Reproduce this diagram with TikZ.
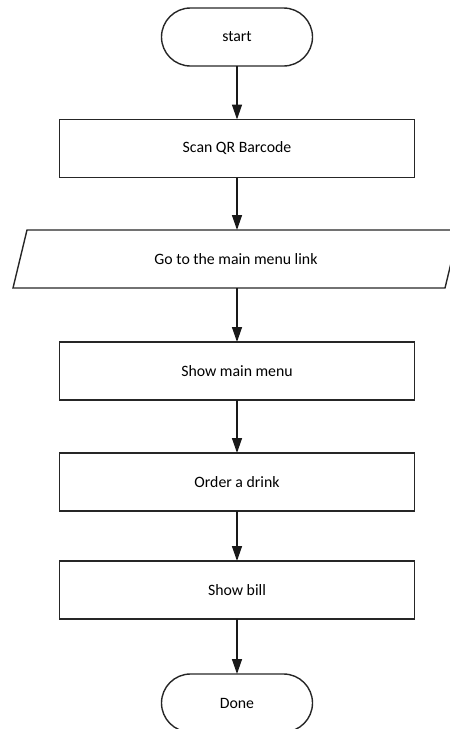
\documentclass[tikz,border=0pt]{standalone}
\usepackage{fontspec}
\setmainfont{Carlito}
\usetikzlibrary{arrows.meta}
\begin{document}
\begin{tikzpicture}[x=1pt,y=-1pt,
    >={Triangle[width=10pt,length=15pt]},
    box/.style={draw=black!85,line width=1.4pt,inner sep=0pt,outer sep=0pt,
        font=\fontsize{15.8}{19}\selectfont},
    terminal/.style={box,rectangle,rounded corners=29pt,minimum width=151pt,minimum height=58pt},
    process/.style={box,rectangle,minimum width=355pt,minimum height=58pt},
    io/.style={box,draw=none,rectangle,minimum width=432pt,minimum height=58pt},
    flow/.style={->,line width=1.4pt,black!90}]
    \useasboundingbox (0,0) rectangle (450,729) ;

    \node[terminal] (start) at (237,37) {start} ;
    \node[process] (scan) at (237,148.5) {Scan QR Barcode} ;
    \node[io] (link) at (236,259) {Go to the main menu link} ;
    \node[process] (menu) at (237,371) {Show main menu} ;
    \node[process] (order) at (237,482) {Order a drink} ;
    \node[process] (bill) at (237,590) {Show bill} ;
    \node[terminal] (done) at (237,703) {Done} ;

    % slanted input box round the link text
    \draw[box] ([xshift=7pt]link.north west) -- ([xshift=7pt]link.north east)
        -- ([xshift=-7pt]link.south east) -- ([xshift=-7pt]link.south west) -- cycle ;

    \draw[flow] (start) -- (scan) ;
    \draw[flow] (scan.south) -- (scan.south |- link.north) ;
    \draw[flow] (scan.south |- link.south) -- (menu.north) ;
    \draw[flow] (menu) -- (order) ;
    \draw[flow] (order) -- (bill) ;
    \draw[flow] (bill) -- (done) ;
\end{tikzpicture}
\end{document}
